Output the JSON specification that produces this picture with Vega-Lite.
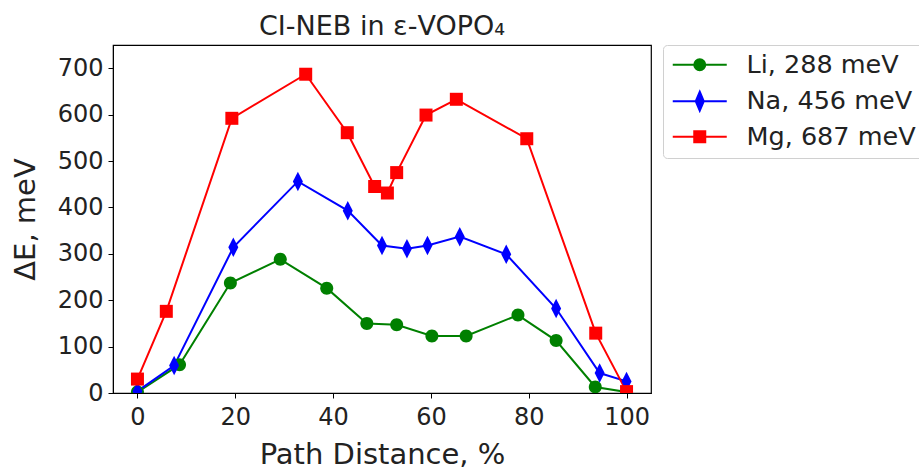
{
  "$schema": "https://vega.github.io/schema/vega-lite/v6.json",
  "width": 538,
  "height": 348,
  "autosize": {"type": "none"},
  "padding": {"left": 113, "top": 45, "right": 268, "bottom": 75},
  "background": "white",
  "config": {"font": "DejaVu Sans", "view": {"stroke": "black", "strokeWidth": 1.2}},
  "title": {"text": "CI-NEB in ε-VOPO₄", "fontSize": 27, "fontWeight": "normal", "font": "DejaVu Sans", "color": "#222", "offset": 4, "anchor": "middle"},
  "data": {"values": [
    {"series": "Li, 288 meV", "x": 0, "y": 2},
    {"series": "Li, 288 meV", "x": 8.6, "y": 61},
    {"series": "Li, 288 meV", "x": 19.0, "y": 237},
    {"series": "Li, 288 meV", "x": 29.2, "y": 288},
    {"series": "Li, 288 meV", "x": 38.7, "y": 226},
    {"series": "Li, 288 meV", "x": 46.9, "y": 150},
    {"series": "Li, 288 meV", "x": 53.0, "y": 147},
    {"series": "Li, 288 meV", "x": 60.2, "y": 123},
    {"series": "Li, 288 meV", "x": 67.2, "y": 123},
    {"series": "Li, 288 meV", "x": 77.8, "y": 168},
    {"series": "Li, 288 meV", "x": 85.6, "y": 113},
    {"series": "Li, 288 meV", "x": 93.6, "y": 13},
    {"series": "Li, 288 meV", "x": 100, "y": 2},
    {"series": "Na, 456 meV", "x": 0, "y": 4},
    {"series": "Na, 456 meV", "x": 7.5, "y": 59},
    {"series": "Na, 456 meV", "x": 19.6, "y": 314},
    {"series": "Na, 456 meV", "x": 32.8, "y": 456},
    {"series": "Na, 456 meV", "x": 43.0, "y": 393},
    {"series": "Na, 456 meV", "x": 50.0, "y": 318},
    {"series": "Na, 456 meV", "x": 55.1, "y": 311},
    {"series": "Na, 456 meV", "x": 59.3, "y": 318},
    {"series": "Na, 456 meV", "x": 65.9, "y": 337},
    {"series": "Na, 456 meV", "x": 75.4, "y": 299},
    {"series": "Na, 456 meV", "x": 85.6, "y": 182},
    {"series": "Na, 456 meV", "x": 94.5, "y": 43},
    {"series": "Na, 456 meV", "x": 100, "y": 25},
    {"series": "Mg, 687 meV", "x": 0, "y": 30},
    {"series": "Mg, 687 meV", "x": 5.9, "y": 176},
    {"series": "Mg, 687 meV", "x": 19.3, "y": 592},
    {"series": "Mg, 687 meV", "x": 34.4, "y": 687},
    {"series": "Mg, 687 meV", "x": 42.9, "y": 561},
    {"series": "Mg, 687 meV", "x": 48.5, "y": 445},
    {"series": "Mg, 687 meV", "x": 51.1, "y": 431},
    {"series": "Mg, 687 meV", "x": 53.0, "y": 475},
    {"series": "Mg, 687 meV", "x": 59.0, "y": 599},
    {"series": "Mg, 687 meV", "x": 65.2, "y": 633},
    {"series": "Mg, 687 meV", "x": 79.6, "y": 548},
    {"series": "Mg, 687 meV", "x": 93.7, "y": 129},
    {"series": "Mg, 687 meV", "x": 100, "y": 3}
  ]},
  "encoding": {
    "x": {"field": "x", "type": "quantitative",
      "scale": {"domain": [-5, 105], "nice": false, "zero": false},
      "axis": {"values": [0, 20, 40, 60, 80, 100], "title": "Path Distance, %", "titleFontSize": 29, "titleFontWeight": "normal", "labelFontSize": 24, "tickSize": 5, "labelPadding": 7, "grid": false, "domainColor": "black", "tickColor": "black", "labelColor": "#222", "titleColor": "#222", "titleY": 70, "titleBaseline": "alphabetic", "labelFlush": false}},
    "y": {"field": "y", "type": "quantitative",
      "scale": {"domain": [0, 750], "nice": false},
      "axis": {"values": [0, 100, 200, 300, 400, 500, 600, 700], "title": "ΔE, meV", "titleFontSize": 29, "titleFontWeight": "normal", "labelFontSize": 24, "tickSize": 5, "labelPadding": 5, "grid": false, "domainColor": "black", "tickColor": "black", "labelColor": "#222", "titleColor": "#222", "titleX": -79, "titleY": 174, "titleAngle": 270, "titleAlign": "center", "titleBaseline": "alphabetic"}}
  },
  "layer": [
    {"mark": {"type": "line", "strokeWidth": 2, "clip": true},
     "encoding": {"color": {"field": "series", "type": "nominal",
      "scale": {"domain": ["Li, 288 meV", "Na, 456 meV", "Mg, 687 meV"], "range": ["#008000", "#0000ff", "#ff0000"]},
      "legend": null}}},
    {"mark": {"type": "point", "filled": true, "opacity": 1, "clip": true, "size": 100, "strokeWidth": 1},
     "encoding": {
       "color": {"field": "series", "type": "nominal",
         "scale": {"domain": ["Li, 288 meV", "Na, 456 meV", "Mg, 687 meV"], "range": ["#008000", "#0000ff", "#ff0000"]},
         "legend": null},
       "shape": {"field": "series", "type": "nominal",
         "scale": {"domain": ["Li, 288 meV", "Na, 456 meV", "Mg, 687 meV"],
           "range": ["M-1.3,0A1.3,1.3,0,1,0,1.3,0A1.3,1.3,0,1,0,-1.3,0Z", "M0,-1.95L1.0,0L0,1.95L-1.0,0Z", "M-1.3,-1.3H1.3V1.3H-1.3Z"]},
         "legend": null}
     }},
    {"mark": {"type": "point", "filled": true, "opacity": 0, "size": 100, "strokeWidth": 2},
     "encoding": {
       "shape": {"field": "series", "type": "nominal",
         "scale": {"domain": ["Li, 288 meV", "Na, 456 meV", "Mg, 687 meV"],
           "range": ["M-5.4,0H5.4M-1.1,0A1.1,1.1,0,1,0,1.1,0A1.1,1.1,0,1,0,-1.1,0Z", "M-5.4,0H5.4M0,-1.9L0.8,0L0,1.9L-0.8,0Z", "M-5.4,0H5.4M-1.1,-1.1H1.1V1.1H-1.1Z"]},
         "legend": {"title": null, "orient": "none", "legendX": 550, "legendY": 0, "labelFontSize": 25.5, "labelFont": "DejaVu Sans", "labelColor": "#222", "symbolSize": 100, "symbolOffset": 17, "labelOffset": 34, "padding": 7, "rowPadding": 8.5, "fillColor": "white", "strokeColor": "#d0d0d0", "cornerRadius": 4, "symbolStrokeWidth": 2, "symbolOpacity": 1, "labelLimit": 400}},
       "fill": {"field": "series", "type": "nominal",
         "scale": {"domain": ["Li, 288 meV", "Na, 456 meV", "Mg, 687 meV"], "range": ["#008000", "#0000ff", "#ff0000"]},
         "legend": {"title": null, "orient": "none", "legendX": 550, "legendY": 0, "labelFontSize": 25.5, "labelFont": "DejaVu Sans", "labelColor": "#222", "symbolSize": 100, "symbolOffset": 17, "labelOffset": 34, "padding": 7, "rowPadding": 8.5, "fillColor": "white", "strokeColor": "#d0d0d0", "cornerRadius": 4, "symbolStrokeWidth": 2, "symbolOpacity": 1, "labelLimit": 400}},
       "stroke": {"field": "series", "type": "nominal",
         "scale": {"domain": ["Li, 288 meV", "Na, 456 meV", "Mg, 687 meV"], "range": ["#008000", "#0000ff", "#ff0000"]},
         "legend": {"title": null, "orient": "none", "legendX": 550, "legendY": 0, "labelFontSize": 25.5, "labelFont": "DejaVu Sans", "labelColor": "#222", "symbolSize": 100, "symbolOffset": 17, "labelOffset": 34, "padding": 7, "rowPadding": 8.5, "fillColor": "white", "strokeColor": "#d0d0d0", "cornerRadius": 4, "symbolStrokeWidth": 2, "symbolOpacity": 1, "labelLimit": 400}}
     }}
  ],
  "resolve": {"scale": {"shape": "independent", "fill": "independent", "stroke": "independent"}}
}
